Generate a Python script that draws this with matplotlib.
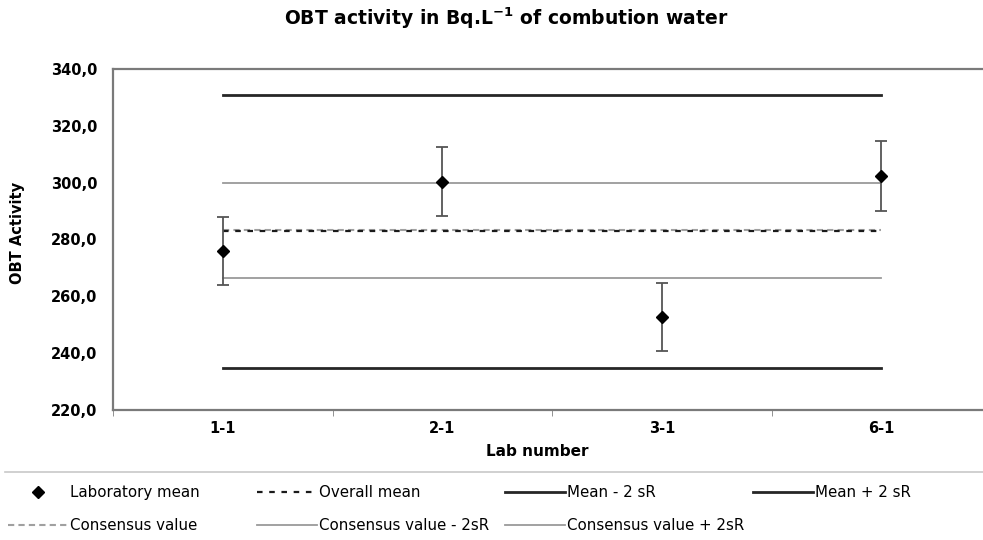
import matplotlib
matplotlib.use("Agg")
import matplotlib.pyplot as plt
from matplotlib.lines import Line2D
from matplotlib.ticker import FuncFormatter, FixedLocator

# data
labs = ["1-1", "2-1", "3-1", "6-1"]
lab_mean = [275.9, 300.4, 252.7, 302.4]
lab_unc = [11.9, 12.1, 12.1, 12.3]

overall_mean = 282.85
mean_minus_2sr = 234.8
mean_plus_2sr = 330.9
consensus = 283.3
consensus_minus_2sr = 266.5
consensus_plus_2sr = 300.0

plt.rcParams['font.family'] = ['DejaVu Sans']

fig = plt.figure(figsize=(9.83, 5.40), dpi=100)
# right edge of the plot area runs past the picture, as in the original
ax = fig.add_axes([113 / 983, 1 - 410 / 540, (991 - 113) / 983, (410 - 69) / 540])

x = list(range(len(labs)))
n = len(labs)

# reference lines (drawn as series across the categories)
l_m_lo, = ax.plot(x, [mean_minus_2sr] * n, color="#262626", lw=2.0, zorder=2)
l_m_hi, = ax.plot(x, [mean_plus_2sr] * n, color="#262626", lw=2.0, zorder=2)
l_c_lo, = ax.plot(x, [consensus_minus_2sr] * n, color="#9a9a9a", lw=1.3, zorder=2)
l_c_hi, = ax.plot(x, [consensus_plus_2sr] * n, color="#9a9a9a", lw=1.3, zorder=2)
l_cons, = ax.plot(x, [consensus] * n, color="#a0a0a0", lw=1.5, ls=(0, (3, 2)), zorder=3)
l_mean, = ax.plot(x, [overall_mean] * n, color="#1a1a1a", lw=1.6, ls=(0, (2.5, 3)), zorder=4)

# laboratory means with uncertainties
ax.errorbar(x, lab_mean, yerr=lab_unc, fmt="none", ecolor="#555555",
            elinewidth=1.3, capsize=4, capthick=1.3, zorder=5)
l_lab, = ax.plot(x, lab_mean, "D", color="black", ms=6, zorder=6)

ax.set_xlim(-0.5, len(labs) - 0.5)
ax.set_ylim(220, 340)
ax.set_yticks(range(220, 341, 20))
ax.yaxis.set_major_formatter(FuncFormatter(lambda v, p: f"{v:.1f}".replace(".", ",")))
ax.set_xticks(x)
ax.set_xticklabels(labs)
ax.xaxis.set_minor_locator(FixedLocator([i - 0.5 for i in range(len(labs) + 1)]))
ax.tick_params(axis="x", which="major", length=0, pad=8)
ax.tick_params(axis="x", which="minor", length=4, color="#808080", direction="out")
ax.tick_params(axis="y", length=0, pad=11)
for lab in ax.get_xticklabels() + ax.get_yticklabels():
    lab.set_fontweight("bold")
    lab.set_fontsize(10.5)

for s in ["left", "bottom", "top"]:
    ax.spines[s].set_color("#7a7a7a")
    ax.spines[s].set_linewidth(1.6)
ax.spines["right"].set_visible(False)

ax.set_ylabel("OBT Activity", fontsize=10.5, fontweight="bold")
ax.yaxis.set_label_coords(-0.1, 0.518)
ax.set_xlabel("Lab number", fontsize=11, fontweight="bold")
ax.xaxis.set_label_coords(0.483, -0.1)
fig.text(0.515, 1 - 18 / 540, "OBT activity in Bq.L$^{\\mathbf{-1}}$ of combution water",
         ha="center", va="center", fontsize=13.5, fontweight="bold")

# separator above the legend
fig.add_artist(Line2D([5 / 983, 1.0], [1 - 472 / 540] * 2, transform=fig.transFigure,
                      color="#c8c8c8", lw=1.2))

# legend: four fixed-width columns, as Excel lays them out
columns = [
    ([l_lab, l_cons], ["Laboratory mean", "Consensus value"]),
    ([l_mean, l_c_lo], ["Overall mean", "Consensus value - 2sR"]),
    ([l_m_lo, l_c_hi], ["Mean - 2 sR", "Consensus value + 2sR"]),
    ([l_m_hi], ["Mean + 2 sR"]),
]
col_x = [8, 257, 505, 753]
for (hs, ls), cx in zip(columns, col_x):
    fig.legend(hs, ls, loc="upper left", bbox_to_anchor=(cx / 983, 1 - 485 / 540),
               frameon=False, fontsize=10.8, handlelength=4.0, handletextpad=0.12,
               labelspacing=1.2, borderaxespad=0, borderpad=0)

fig.savefig("out.png", dpi=100)
